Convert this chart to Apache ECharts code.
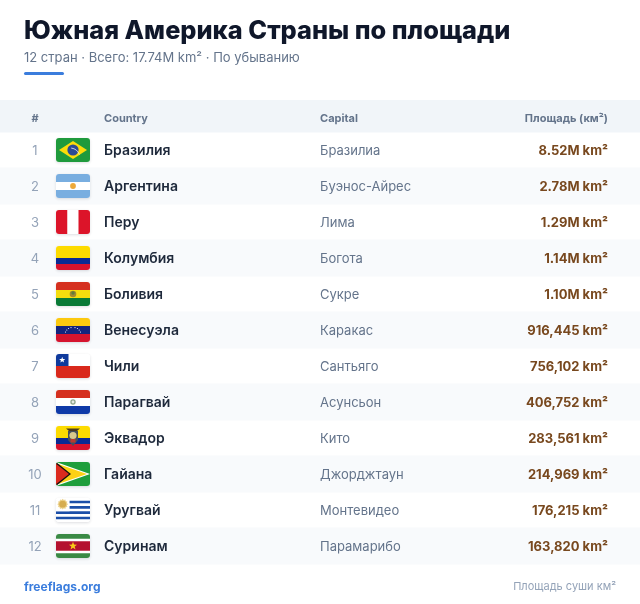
<!DOCTYPE html>
<html>
<head>
<meta charset="utf-8">
<title>Южная Америка Страны по площади</title>
<script src="https://cdn.jsdelivr.net/npm/echarts@6/dist/echarts.min.js"></script>
<style>
html, body { margin: 0; padding: 0; background: #fff; }
#chart { width: 640px; height: 604px; }
</style>
</head>
<body>
<div id="chart"></div>
<script>
var ranks = [1, 2, 3, 4, 5, 6, 7, 8, 9, 10, 11, 12];
var countries = ['Бразилия', 'Аргентина', 'Перу', 'Колумбия', 'Боливия', 'Венесуэла', 'Чили', 'Парагвай', 'Эквадор', 'Гайана', 'Уругвай', 'Суринам'];
var capitals = ['Бразилиа', 'Буэнос-Айрес', 'Лима', 'Богота', 'Сукре', 'Каракас', 'Сантьяго', 'Асунсьон', 'Кито', 'Джорджтаун', 'Монтевидео', 'Парамарибо'];
var areas = [8520000, 2780000, 1290000, 1140000, 1100000, 916445, 756102, 406752, 283561, 214969, 176215, 163820];
var flagCodes = ['br', 'ar', 'pe', 'co', 'bo', 've', 'cl', 'py', 'ec', 'gy', 'uy', 'sr'];
var columnTitles = ['#', 'Country', 'Capital', 'Площадь (км²)'];

var FONT = 'Inter, "Noto Sans", sans-serif';
var chart = echarts.init(document.getElementById('chart'));

function formatArea(v) {
    if (v >= 1000000) {
        return (v / 1000000).toFixed(2) + 'M km²';
    }
    return v.toLocaleString('en-US') + ' km²';
}

// flag pieces, in a local 34x24 box
function r(x, y, w, h, fill) {
    return { type: 'rect', shape: { x: x, y: y, width: w, height: h }, style: { fill: fill } };
}
function c(cx, cy, rad, fill) {
    return { type: 'circle', shape: { cx: cx, cy: cy, r: rad }, style: { fill: fill } };
}
function poly(points, fill) {
    return { type: 'polygon', shape: { points: points }, style: { fill: fill } };
}
function star(cx, cy, rad, fill, inner, count) {
    var pts = [];
    var n = count || 5;
    for (var i = 0; i < n * 2; i++) {
        var a = -Math.PI / 2 + i * Math.PI / n;
        var d = i % 2 ? rad * (inner || 0.42) : rad;
        pts.push([cx + Math.cos(a) * d, cy + Math.sin(a) * d]);
    }
    return poly(pts, fill);
}

function flagParts(code) {
    switch (code) {
    case 'br':
        return [
            r(0, 0, 34, 24, '#1f9a3c'),
            poly([[17, 3], [31, 12], [17, 21], [3, 12]], '#fbdc0a'),
            c(17, 12, 5.6, '#2b4a94'),
            { type: 'arc', shape: { cx: 14, cy: 20, r: 10, startAngle: -1.45, endAngle: -0.35 }, style: { stroke: '#e8eef2', lineWidth: 0.8, fill: null } }
        ];
    case 'ar':
        return [r(0, 0, 34, 8, '#79aee0'), r(0, 8, 34, 8, '#fff'), r(0, 16, 34, 8, '#79aee0'), c(17, 12, 2.9, '#eda93a')];
    case 'pe':
        return [r(0, 0, 11.5, 24, '#dc1429'), r(11.5, 0, 11, 24, '#fff'), r(22.5, 0, 11.5, 24, '#dc1429')];
    case 'co':
        return [r(0, 0, 34, 12, '#fddb00'), r(0, 12, 34, 6, '#0a2a94'), r(0, 18, 34, 6, '#d7122d')];
    case 'bo':
        return [r(0, 0, 34, 8, '#d5301f'), r(0, 8, 34, 8, '#f5dd0e'), r(0, 16, 34, 8, '#0a7a36'),
            c(17, 12, 3.3, '#a08a30'), c(17, 11, 1.7, '#5f7d3a')];
    case 've':
        var ve = [r(0, 0, 34, 8, '#fcc90f'), r(0, 8, 34, 8, '#14257e'), r(0, 16, 34, 8, '#d5142e')];
        var veStars = [[9.5, 14], [10.8, 12], [12.6, 10.5], [15, 9.6], [19, 9.6], [21.4, 10.5], [23.2, 12], [24.5, 14]];
        veStars.forEach(function (p) { ve.push(c(p[0], p[1], 0.55, '#fff')); });
        return ve;
    case 'cl':
        return [r(0, 0, 34, 12, '#fff'), r(0, 12, 34, 12, '#d9291c'), r(0, 0, 12.5, 12, '#0f3a9c'), star(6.2, 6, 3.2, '#fff')];
    case 'py':
        return [r(0, 0, 34, 8, '#d5301f'), r(0, 8, 34, 8, '#fff'), r(0, 16, 34, 8, '#0f3aa8'),
            c(17, 12, 2.7, '#8fa58c'), c(17, 12, 1.4, '#e6ebe4')];
    case 'ec':
        return [r(0, 0, 34, 12, '#fddb00'), r(0, 12, 34, 6, '#0a2a94'), r(0, 18, 34, 6, '#d7122d'),
            poly([[10, 2.5], [24, 2.5], [21, 5], [13, 5]], '#4a3a20'),
            poly([[12, 5], [22, 5], [22, 14], [17, 20], [12, 14]], '#46505a'),
            c(17, 9.5, 3.6, '#d8c88c'),
            r(14.5, 13, 5, 3.5, '#b8392f')];
    case 'gy':
        return [r(0, 0, 34, 24, '#1f9e3c'),
            poly([[0, 0], [34, 12], [0, 24]], '#fff'),
            poly([[0, 1.2], [31, 12], [0, 22.8]], '#fcd116'),
            poly([[0, 0], [15, 12], [0, 24]], '#111'),
            poly([[0, 1.8], [13, 12], [0, 22.2]], '#dc2a1e')];
    case 'uy':
        var uy = [r(0, 0, 34, 24, '#fff')];
        [2.67, 8, 13.33, 18.67].forEach(function (y) { uy.push(r(0, y, 34, 2.67, '#1b4fa8')); });
        uy.push(r(0, 0, 13.6, 13.3, '#fff'));
        uy.push(star(6.7, 6.2, 5.4, '#ecd28c', 0.8, 12));
        uy.push(c(6.7, 6.2, 3.4, '#d6ad50'));
        return uy;
    case 'sr':
        return [r(0, 0, 34, 24, '#fff'), r(0, 0, 34, 4.8, '#3a8a45'), r(0, 19.2, 34, 4.8, '#3a8a45'),
            r(0, 7.2, 34, 9.6, '#b4122f'), star(17, 12, 4.2, '#f8c918')];
    }
    return [];
}

function renderRow(params, api) {
    var i = params.dataIndex;
    var center = api.coord([0, i]);
    var cy = center[1];
    var rowH = api.size([0, 1])[1];
    var children = [];

    if (i % 2 === 1) {
        children.push({ type: 'rect', shape: { x: 0, y: cy - rowH / 2 - 0.5, width: 640, height: rowH + 1 }, style: { fill: '#f8fafc' } });
    }
    function text(xVal, str, font, fill, align) {
        children.push({
            type: 'text',
            style: { x: api.coord([xVal, i])[0], y: cy + 1, text: str, font: font + ' ' + FONT, fill: fill, align: align, verticalAlign: 'middle' }
        });
    }
    text(35, String(ranks[i]), '400 13px', '#94a3b8', 'center');
    // soft shadow under the flag
    children.push({
        type: 'rect',
        shape: { x: 56, y: cy - 12, width: 34, height: 24, r: 3 },
        style: { fill: '#fff', shadowBlur: 3, shadowOffsetY: 1, shadowColor: 'rgba(15,23,42,0.14)' }
    });
    children.push({
        type: 'group',
        x: 56,
        y: cy - 12,
        clipPath: { type: 'rect', shape: { x: 0, y: 0, width: 34, height: 24, r: 3 } },
        children: flagParts(flagCodes[i])
    });
    text(104, countries[i], '600 14px', '#1e293b', 'left');
    text(320, capitals[i], '400 13px', '#64748b', 'left');
    text(608, formatArea(areas[i]), '700 13px', '#78481e', 'right');
    return { type: 'group', children: children };
}

var headerY = 119;
var option = {
    backgroundColor: '#ffffff',
    animation: false,
    grid: { left: 0, right: 0, top: 132, height: 432, containLabel: false },
    xAxis: { type: 'value', min: 0, max: 640, show: false },
    yAxis: { type: 'category', data: countries, inverse: true, show: false },
    series: [{
        type: 'custom',
        coordinateSystem: 'cartesian2d',
        clip: false,
        encode: { x: 0, y: 1 },
        data: areas.map(function (v, i) { return [0, i, v]; }),
        renderItem: renderRow
    }],
    graphic: [
        { type: 'text', style: { x: 24, y: 31, text: 'Южная Америка Страны по площади', font: '800 25.35px ' + FONT, fill: '#0f172a', verticalAlign: 'middle' } },
        { type: 'text', style: { x: 24, y: 58, text: '12 стран · Всего: 17.74M km² · По убыванию', font: '400 13px ' + FONT, fill: '#64748b', verticalAlign: 'middle' } },
        { type: 'rect', shape: { x: 24, y: 72, width: 40, height: 3, r: 2 }, style: { fill: '#3b7ddd' } },
        { type: 'rect', shape: { x: 0, y: 100, width: 640, height: 32.5 }, style: { fill: '#f1f5f9' } },
        { type: 'text', style: { x: 35, y: headerY, text: columnTitles[0], font: '700 11px ' + FONT, fill: '#64748b', align: 'center', verticalAlign: 'middle' } },
        { type: 'text', style: { x: 104, y: headerY, text: columnTitles[1], font: '700 11px ' + FONT, fill: '#64748b', verticalAlign: 'middle' } },
        { type: 'text', style: { x: 320, y: headerY, text: columnTitles[2], font: '700 11px ' + FONT, fill: '#64748b', verticalAlign: 'middle' } },
        { type: 'text', style: { x: 608, y: headerY, text: columnTitles[3], font: '700 11px ' + FONT, fill: '#64748b', align: 'right', verticalAlign: 'middle' } },
        { type: 'text', style: { x: 24, y: 587, text: 'freeflags.org', font: '700 12px ' + FONT, fill: '#3b7ddd', verticalAlign: 'middle' } },
        { type: 'text', style: { x: 616, y: 587, text: 'Площадь суши км²', font: '400 11px ' + FONT, fill: '#94a3b8', align: 'right', verticalAlign: 'middle' } }
    ]
};
chart.setOption(option);
</script>
</body>
</html>
